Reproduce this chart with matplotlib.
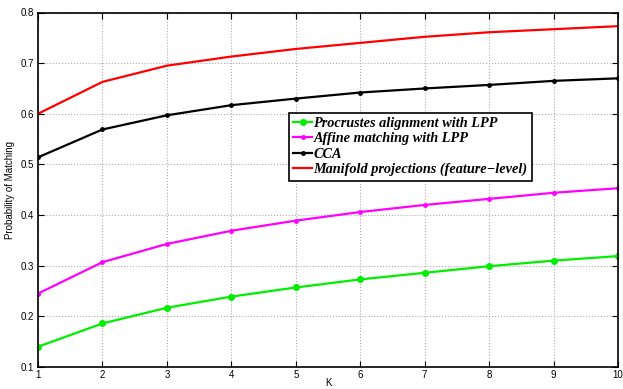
import matplotlib
matplotlib.use('Agg')
import matplotlib.pyplot as plt

K = [1, 2, 3, 4, 5, 6, 7, 8, 9, 10]
procrustes = [0.140, 0.186, 0.217, 0.239, 0.257, 0.273, 0.286, 0.299, 0.310, 0.319]
affine = [0.245, 0.307, 0.343, 0.369, 0.389, 0.406, 0.420, 0.432, 0.444, 0.453]
cca = [0.514, 0.569, 0.597, 0.617, 0.630, 0.642, 0.650, 0.657, 0.665, 0.670]
manifold = [0.600, 0.663, 0.695, 0.713, 0.728, 0.740, 0.752, 0.761, 0.767, 0.773]

plt.rcParams['font.family'] = 'Liberation Sans'

fig = plt.figure(figsize=(6.23, 3.89), dpi=100)
ax = fig.add_axes([38 / 623, 1 - 367 / 389, 580 / 623, 354.5 / 389])

ax.plot(K, procrustes, ls='-', marker='o', color='#00ee00', lw=1.6, ms=4, label='Procrustes alignment with LPP')
ax.plot(K, affine, ls='-', marker='.', color='#ff00ff', lw=1.6, ms=5, label='Affine matching with LPP')
ax.plot(K, cca, ls='-', marker='.', color='black', lw=1.6, ms=5, label='CCA')
ax.plot(K, manifold, ls='-', color='red', lw=1.6, label='Manifold projections (feature\u2212level)')

ax.set_xlim(1, 10)
ax.set_ylim(0.1, 0.8)
ax.set_xticks(K)
ax.set_xticklabels([str(k) for k in K])
ax.set_yticks([0.1, 0.2, 0.3, 0.4, 0.5, 0.6, 0.7, 0.8])
ax.tick_params(direction='in', top=True, right=True, labelsize=7, length=4, pad=3)
ax.tick_params(axis='x', pad=2)
ax.grid(True, ls=':', color='#aaaaaa', lw=0.8)
for s in ax.spines.values():
    s.set_linewidth(1.2)

ax.set_xlabel('K', fontsize=7, labelpad=-1)
ax.set_ylabel('Probability of Matching', fontsize=7, labelpad=4)

leg = ax.legend(loc='upper left', bbox_to_anchor=(0.433, 0.7165), borderaxespad=0,
                prop={'family': 'Liberation Serif', 'style': 'italic', 'weight': 'bold', 'size': 10.3},
                handlelength=1.3, handletextpad=0.1, labelspacing=0.15, borderpad=0.3,
                fancybox=False, framealpha=1, edgecolor='black')
leg.get_frame().set_linewidth(1.2)

fig.savefig('out.png', dpi=100)
